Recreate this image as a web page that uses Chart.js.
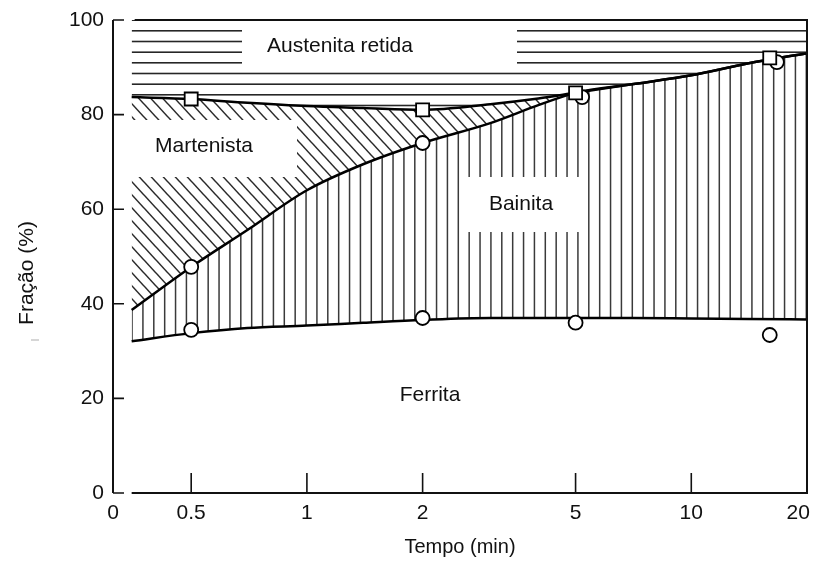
<!DOCTYPE html>
<html>
<head>
<meta charset="utf-8">
<script src="https://cdn.jsdelivr.net/npm/chart.js@4.4.0/dist/chart.umd.min.js"></script>
<style>
  html, body { margin: 0; padding: 0; background: #fff; }
  #wrap { width: 813px; height: 561px; }
</style>
</head>
<body>
<div id="wrap"><canvas id="grafico" width="813" height="561"></canvas></div>
<script>
// tempo (min) dos pontos que desenham as curvas
const tempos = [0.35, 0.5, 0.7, 1, 1.4, 2, 3, 4, 5, 7, 10, 14, 20];
const limiteAustenita = [83.7, 83.3, 82.5, 81.8, 81.4, 81.0, 82.2, 83.4, 84.6, 86.4, 88.3, 90.8, 93.0];
const limiteMartensita = [38.7, 47.8, 55.6, 64.0, 69.5, 74.0, 78.2, 82.0, 84.6, 86.4, 88.3, 90.8, 93.0];
const limiteFerrita = [32.1, 33.8, 34.9, 35.4, 36.0, 36.6, 37.0, 37.0, 37.0, 37.0, 36.9, 36.8, 36.7];

// pontos medidos
const quadradosX = [0.5, 2, 5, 16];
const quadradosY = [83.3, 81.0, 84.6, 92.0];
const circulosX = [0.5, 2, 5.2, 16.7, 0.5, 2, 5, 16];
const circulosY = [47.8, 74.0, 83.7, 91.1, 34.5, 37.0, 36.0, 33.4];

const ticksX = [0.313, 0.5, 1, 2, 5, 10, 20];
const rotulosX = ['0', '0.5', '1', '2', '5', '10', '20   '];

const fonte = "'Liberation Sans', Arial, sans-serif";

function padrao(w, h, desenha) {
    let c = document.createElement('canvas');
    c.width = w;
    c.height = h;
    let g = c.getContext('2d');
    desenha(g, w, h);
    return g.createPattern(c, 'repeat');
}

let hachuraHorizontal = padrao(8, 32, (g, w) => {
    g.strokeStyle = '#262626';
    g.lineWidth = 1.6;
    [9.5, 20.2, 30.8].forEach(yy => {
        g.beginPath(); g.moveTo(0, yy); g.lineTo(w, yy); g.stroke();
    });
});

let hachuraVertical = padrao(87, 8, (g, w, h) => {
    g.strokeStyle = '#3a3a3a';
    g.lineWidth = 1.5;
    for (let k = 0; k < 8; k++) {
        let xx = 1.55 + k * 10.875;
        g.beginPath(); g.moveTo(xx, 0); g.lineTo(xx, h); g.stroke();
    }
});

let hachuraDiagonal = padrao(12, 13, (g, w, h) => {
    g.strokeStyle = '#2a2a2a';
    g.lineWidth = 1.5;
    [-1, 0, 1].forEach(m => {
        g.beginPath();
        g.moveTo(-1, -h / w + m * h);
        g.lineTo(w + 1, h + h / w + m * h);
        g.stroke();
    });
});

function pontos(xs, ys) {
    return xs.map((x, i) => ({ x: x, y: ys[i] }));
}

// caixas brancas e rotulos das fases, eixos desenhados a mao
let desenhoExtra = {
    id: 'desenhoExtra',
    afterDatasetsDraw(chart) {
        let ctx = chart.ctx;
        let sx = chart.scales.x;
        let sy = chart.scales.y;
        let esq = chart.chartArea.left;
        let dir = chart.chartArea.right;
        let topo = sy.getPixelForValue(100);
        let base = sy.getPixelForValue(0);
        let inicio = sx.getPixelForValue(tempos[0]);

        ctx.save();
        ctx.fillStyle = '#fff';
        ctx.fillRect(242, 26, 275, 43);
        ctx.fillRect(130, 120, 167, 57);
        ctx.fillRect(466, 177, 121, 55);

        ctx.fillStyle = '#111';
        ctx.font = '21px ' + fonte;
        ctx.textAlign = 'center';
        ctx.textBaseline = 'middle';
        ctx.fillText('Austenita retida', 340, 46);
        ctx.fillText('Martenista', 204, 146);
        ctx.fillText('Bainita', 521, 204);
        ctx.fillText('Ferrita', 430, 395);

        // eixos
        ctx.strokeStyle = '#111';
        ctx.lineWidth = 2;
        ctx.beginPath();
        ctx.moveTo(esq, topo); ctx.lineTo(esq, base);
        ctx.moveTo(inicio, base); ctx.lineTo(dir, base); ctx.lineTo(dir, topo); ctx.lineTo(inicio + 3, topo);
        ctx.stroke();

        ctx.lineWidth = 1.6;
        ctx.beginPath();
        [0, 20, 40, 60, 80, 100].forEach(v => {
            let py = sy.getPixelForValue(v);
            ctx.moveTo(esq, py); ctx.lineTo(esq + 11, py);
        });
        ticksX.slice(1, 6).forEach(v => {
            let px = sx.getPixelForValue(v);
            ctx.moveTo(px, base); ctx.lineTo(px, base - 20);
        });
        ctx.stroke();

        // titulo do eixo y
        ctx.translate(27, 273);
        ctx.rotate(-Math.PI / 2);
        ctx.font = '21px ' + fonte;
        ctx.fillText('Fração (%)', 0, 0);
        ctx.restore();

        ctx.save();
        ctx.strokeStyle = '#c8c8c8';
        ctx.lineWidth = 1.5;
        ctx.beginPath(); ctx.moveTo(31, 340); ctx.lineTo(39, 340); ctx.stroke();
        ctx.restore();
    }
};

new Chart(document.getElementById('grafico'), {
    type: 'line',
    data: {
        datasets: [
            {
                label: 'Austenita retida',
                data: pontos(tempos, limiteAustenita),
                fill: 'end',
                backgroundColor: hachuraHorizontal,
                borderColor: '#000',
                borderWidth: 2.5,
                pointRadius: 0,
                cubicInterpolationMode: 'monotone',
                order: 1
            },
            {
                label: 'Martensita',
                data: pontos(tempos, limiteMartensita),
                fill: 0,
                backgroundColor: hachuraDiagonal,
                borderColor: '#000',
                borderWidth: 2.5,
                pointRadius: 0,
                cubicInterpolationMode: 'monotone',
                order: 1
            },
            {
                label: 'Bainita',
                data: pontos(tempos, limiteFerrita),
                fill: 1,
                backgroundColor: hachuraVertical,
                borderColor: '#000',
                borderWidth: 2.5,
                pointRadius: 0,
                cubicInterpolationMode: 'monotone',
                order: 1
            },
            {
                label: 'quadrados',
                data: pontos(quadradosX, quadradosY),
                showLine: false,
                pointStyle: 'rect',
                pointRadius: 9.2,
                pointBackgroundColor: '#fff',
                pointBorderColor: '#000',
                pointBorderWidth: 1.8,
                order: 0
            },
            {
                label: 'circulos',
                data: pontos(circulosX, circulosY),
                showLine: false,
                pointStyle: 'circle',
                pointRadius: 7,
                pointBackgroundColor: '#fff',
                pointBorderColor: '#000',
                pointBorderWidth: 1.8,
                order: 0
            }
        ]
    },
    options: {
        responsive: false,
        animation: false,
        layout: {
            autoPadding: false,
            padding: { top: 20, right: 6, left: 0, bottom: 0 }
        },
        plugins: {
            legend: { display: false },
            tooltip: { enabled: false }
        },
        scales: {
            x: {
                type: 'logarithmic',
                bounds: 'data',
                min: 0.313,
                max: 20,
                afterBuildTicks: s => {
                    s.ticks = ticksX.map(v => ({ value: v }));
                    s.min = ticksX[0];
                    s.max = ticksX[ticksX.length - 1];
                },
                afterFit: s => { s.height = 68; s.paddingLeft = 0; s.paddingRight = 0; },
                grid: { display: false, drawTicks: false },
                border: { display: false },
                ticks: {
                    autoSkip: false,
                    maxRotation: 0,
                    padding: 8,
                    color: '#111',
                    font: { family: fonte, size: 21 },
                    callback: (v, i) => rotulosX[i]
                },
                title: {
                    display: true,
                    text: 'Tempo (min)',
                    color: '#111',
                    font: { family: fonte, size: 20 },
                    padding: { top: 0, bottom: 2 }
                }
            },
            y: {
                min: 0,
                max: 100,
                afterFit: s => { s.width = 113; s.paddingTop = 0; s.paddingBottom = 0; },
                grid: { display: false, drawTicks: false },
                border: { display: false },
                ticks: {
                    stepSize: 20,
                    padding: 9,
                    color: '#111',
                    font: { family: fonte, size: 21 }
                }
            }
        }
    },
    plugins: [desenhoExtra]
});
</script>
</body>
</html>
